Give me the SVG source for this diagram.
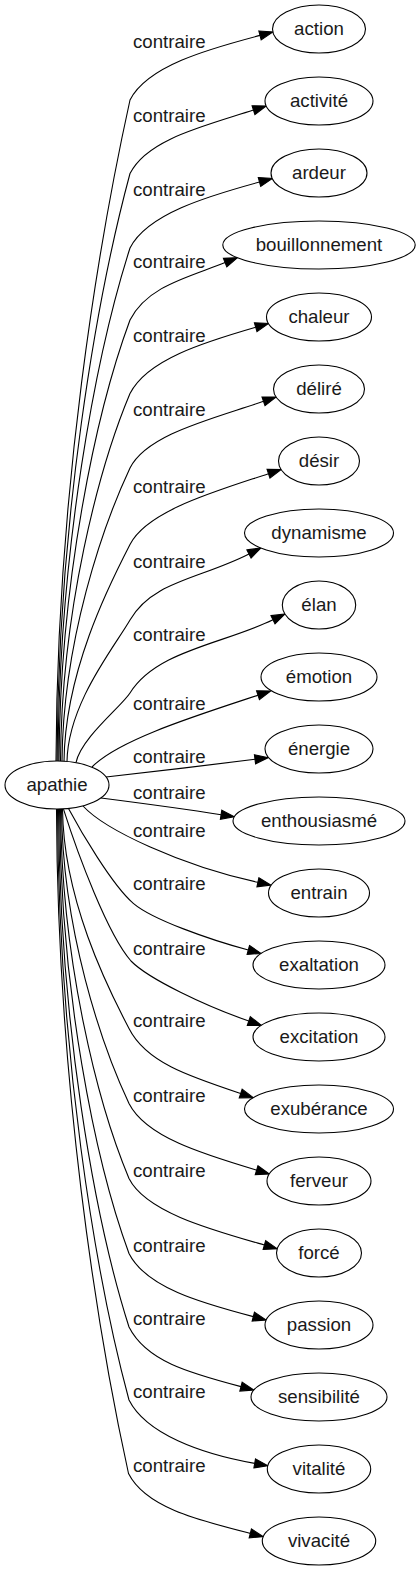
<svg xmlns="http://www.w3.org/2000/svg" width="420" height="1571" viewBox="0 0 420 1571">
<style>
.n ellipse{fill:#fff;stroke:#000;stroke-width:1.1}
text{font-family:"Liberation Sans",Arial,sans-serif;font-size:18.67px;fill:#1a1a1a}
.n text{text-anchor:middle}
.e path{fill:none;stroke:#000;stroke-width:1.1;marker-end:url(#arr)}
.e text{text-anchor:middle}
</style>
<defs>
<marker id="arr" markerUnits="userSpaceOnUse" markerWidth="15" markerHeight="11" refX="0" refY="5" orient="auto" overflow="visible">
<path d="M0,0.4 L13.3,5 L0,9.6 Z" fill="#000" stroke="#000" stroke-width="1.1"/>
</marker>
</defs>
<rect width="420" height="1571" fill="#fff"/>
<g class="e" id="edges">
<path d="M56,761 C57,490 98.7,242 130,100 C147.1,66.2 206.8,49.4 260,35.4"/>
<path d="M57,761 C58,520.1 96.4,298.4 130,173.5 C147.1,139.7 201.1,127 253.5,110.1"/>
<path d="M58,761 C59,550.7 95.6,355.5 130,248 C147.1,214.2 206.4,196.5 259.5,182"/>
<path d="M59,761 C60,580.2 96.3,411 130,320 C147.1,286.2 188,277.4 225.1,262.6"/>
<path d="M60.5,761 C61.5,610.3 98.7,468.1 130,393.5 C147.1,359.7 202.9,342.5 255.7,327.2"/>
<path d="M62,761.3 C63,641 102.6,526.4 130,468 C147.1,434.2 211.5,419.2 263.5,401.3"/>
<path d="M64,761.5 C65,672.5 108.1,586.9 130,544.5 C147.1,510.7 216.3,491.1 268.5,473.7"/>
<path d="M67,761.5 C68,703.5 114.4,647 130,620 C152.5,581 200,579 249,554"/>
<path d="M76,762.7 C81,738 121.8,706.1 130,693 C156.5,650.5 223.6,643.9 273,619.8"/>
<path d="M92,767 C118,740 195,716 258,695.2"/>
<path d="M106,777 C150,772 210,765 255,759.3"/>
<path d="M101,798 C140,803 185,809 221.1,814.7"/>
<path d="M83,806 C105,830 182,866 257.9,882.3"/>
<path d="M68.5,808.4 C80,830 112,885 133.3,903.3 C152.3,919.6 209.7,939.6 248.3,950"/>
<path d="M63.5,809.2 C78,855 108,935 131,961 C148.5,979 206.2,1006.3 248.8,1021"/>
<path d="M62.5,809 C63.5,899 106.6,985.7 129,1028.5 C146.1,1062.3 188.5,1076.2 240.7,1093.5"/>
<path d="M61.5,809 C62.5,929.7 101.4,1044.9 129,1103.5 C146.1,1137.3 203.9,1154.4 256.6,1170.2"/>
<path d="M60.5,809 C61.5,960.5 97.5,1103.5 129,1178.5 C146.1,1212.3 211.5,1229.8 264.4,1245"/>
<path d="M59.5,809 C60.5,991.2 95.2,1161.8 129,1253.5 C146.1,1287.3 200.1,1302.7 253.3,1316.6"/>
<path d="M58.5,809 C59.5,1021.4 94.3,1218.4 129,1327 C146.1,1360.8 187.8,1372.6 241,1386.6"/>
<path d="M57.5,809 C58.5,1051.3 95.1,1274.5 129,1400 C146.1,1433.8 200.5,1453.8 254.7,1463.4"/>
<path d="M56.5,809 C57.5,1081.4 97.1,1330.7 128.5,1473.5 C145.6,1507.3 197,1519.8 250.3,1533.4"/>
<text x="169.3" y="48">contraire</text>
<text x="169.3" y="121.5">contraire</text>
<text x="169.3" y="196">contraire</text>
<text x="169.3" y="268">contraire</text>
<text x="169.3" y="341.5">contraire</text>
<text x="169.3" y="416">contraire</text>
<text x="169.3" y="492.5">contraire</text>
<text x="169.3" y="568">contraire</text>
<text x="169.3" y="641">contraire</text>
<text x="169.3" y="710">contraire</text>
<text x="169.3" y="763">contraire</text>
<text x="169.3" y="799">contraire</text>
<text x="169.3" y="836.5">contraire</text>
<text x="169.3" y="890">contraire</text>
<text x="169.3" y="955">contraire</text>
<text x="169.3" y="1026.5">contraire</text>
<text x="169.3" y="1101.5">contraire</text>
<text x="169.3" y="1176.5">contraire</text>
<text x="169.3" y="1251.5">contraire</text>
<text x="169.3" y="1325">contraire</text>
<text x="169.3" y="1398">contraire</text>
<text x="169.3" y="1471.5">contraire</text>
</g>
<g class="n" id="apathie"><ellipse cx="57" cy="785" rx="52" ry="24"/><text x="57" y="791">apathie</text></g>
<g class="n" id="action"><ellipse cx="319" cy="29" rx="46.5" ry="24"/><text x="319" y="35">action</text></g>
<g class="n" id="activite"><ellipse cx="319" cy="101" rx="54" ry="24"/><text x="319" y="107">activité</text></g>
<g class="n" id="ardeur"><ellipse cx="319" cy="173" rx="48" ry="24"/><text x="319" y="179">ardeur</text></g>
<g class="n" id="bouillonnement"><ellipse cx="319" cy="245" rx="96.2" ry="24"/><text x="319" y="251">bouillonnement</text></g>
<g class="n" id="chaleur"><ellipse cx="319" cy="317" rx="52.5" ry="24"/><text x="319" y="323">chaleur</text></g>
<g class="n" id="delire"><ellipse cx="319" cy="389" rx="45.5" ry="24"/><text x="319" y="395">déliré</text></g>
<g class="n" id="desir"><ellipse cx="319" cy="461" rx="40.5" ry="24"/><text x="319" y="467">désir</text></g>
<g class="n" id="dynamisme"><ellipse cx="319" cy="533" rx="74.5" ry="24"/><text x="319" y="539">dynamisme</text></g>
<g class="n" id="elan"><ellipse cx="319" cy="605" rx="36.7" ry="24"/><text x="319" y="611">élan</text></g>
<g class="n" id="emotion"><ellipse cx="319" cy="677" rx="58" ry="24"/><text x="319" y="683">émotion</text></g>
<g class="n" id="energie"><ellipse cx="319" cy="749" rx="54" ry="24"/><text x="319" y="755">énergie</text></g>
<g class="n" id="enthousiasme"><ellipse cx="319" cy="821" rx="86" ry="24"/><text x="319" y="827">enthousiasmé</text></g>
<g class="n" id="entrain"><ellipse cx="319" cy="893" rx="50.5" ry="24"/><text x="319" y="899">entrain</text></g>
<g class="n" id="exaltation"><ellipse cx="319" cy="965" rx="66" ry="24"/><text x="319" y="971">exaltation</text></g>
<g class="n" id="excitation"><ellipse cx="319" cy="1037" rx="66" ry="24"/><text x="319" y="1043">excitation</text></g>
<g class="n" id="exuberance"><ellipse cx="319" cy="1109" rx="74.5" ry="24"/><text x="319" y="1115">exubérance</text></g>
<g class="n" id="ferveur"><ellipse cx="319" cy="1181" rx="52" ry="24"/><text x="319" y="1187">ferveur</text></g>
<g class="n" id="force"><ellipse cx="319" cy="1253" rx="42.5" ry="24"/><text x="319" y="1259">forcé</text></g>
<g class="n" id="passion"><ellipse cx="319" cy="1325" rx="54" ry="24"/><text x="319" y="1331">passion</text></g>
<g class="n" id="sensibilite"><ellipse cx="319" cy="1397" rx="68" ry="24"/><text x="319" y="1403">sensibilité</text></g>
<g class="n" id="vitalite"><ellipse cx="319" cy="1469" rx="51.7" ry="24"/><text x="319" y="1475">vitalité</text></g>
<g class="n" id="vivacite"><ellipse cx="319" cy="1541" rx="56.7" ry="24"/><text x="319" y="1547">vivacité</text></g>
</svg>
